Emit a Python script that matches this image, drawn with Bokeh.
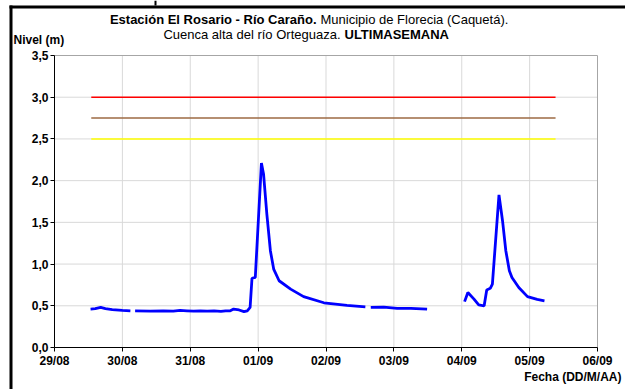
import numpy as np
import pandas as pd
from bokeh.plotting import figure
from bokeh.models import (Range1d, FixedTicker, DatetimeTickFormatter,
                          CustomJSTickFormatter, ColumnDataSource)
from bokeh.core.properties import value
from bokeh.embed import file_html
from bokeh.resources import INLINE

# ---------------- data ----------------
times = [
    "2013-08-29 12:45", "2013-08-29 14:25", "2013-08-29 16:20", "2013-08-29 18:00",
    "2013-08-29 20:25", "2013-08-30 00:00", "2013-08-30 02:50",
    "2013-08-30 03:40",  # gap
    "2013-08-30 04:30", "2013-08-30 09:50", "2013-08-30 14:25", "2013-08-30 18:00",
    "2013-08-30 20:25", "2013-08-30 22:50", "2013-08-31 01:10", "2013-08-31 03:35",
    "2013-08-31 06:00", "2013-08-31 08:25", "2013-08-31 10:50", "2013-08-31 12:30",
    "2013-08-31 14:10", "2013-08-31 15:20", "2013-08-31 17:15", "2013-08-31 19:00",
    "2013-08-31 20:10", "2013-08-31 21:10", "2013-08-31 21:50", "2013-08-31 23:00",
    "2013-09-01 01:10", "2013-09-01 01:55", "2013-09-01 03:05", "2013-09-01 04:20",
    "2013-09-01 05:30", "2013-09-01 07:25", "2013-09-01 11:30", "2013-09-01 16:05",
    "2013-09-01 23:15", "2013-09-02 07:25", "2013-09-02 13:55",
    "2013-09-02 14:50",  # gap
    "2013-09-02 15:50", "2013-09-02 20:25", "2013-09-03 01:10", "2013-09-03 06:00",
    "2013-09-03 11:45",
    "2013-09-03 18:00",  # gap
    "2013-09-04 01:00", "2013-09-04 02:10", "2013-09-04 04:20", "2013-09-04 06:00",
    "2013-09-04 07:55", "2013-09-04 08:50", "2013-09-04 10:05", "2013-09-04 10:50",
    "2013-09-04 13:10", "2013-09-04 14:25", "2013-09-04 15:35", "2013-09-04 16:50",
    "2013-09-04 17:45", "2013-09-04 20:10", "2013-09-04 23:15", "2013-09-05 02:40",
    "2013-09-05 05:15",
]
levels = [
    0.46, 0.465, 0.48, 0.465,
    0.455, 0.445, 0.44,
    None,
    0.44, 0.437, 0.44, 0.435,
    0.445, 0.44, 0.435, 0.44,
    0.435, 0.44, 0.432, 0.44,
    0.44, 0.46, 0.45, 0.43,
    0.44, 0.48, 0.83, 0.84,
    2.21, 2.08, 1.60, 1.16,
    0.94, 0.80, 0.70, 0.61,
    0.536, 0.504, 0.488,
    None,
    0.48, 0.485, 0.47, 0.47,
    0.46,
    None,
    0.55, 0.66, 0.58, 0.51,
    0.50, 0.69, 0.71, 0.76,
    1.83, 1.52, 1.16, 0.92,
    0.84, 0.72, 0.61, 0.576,
    0.56,
]

threshold_values = [3.0, 2.75, 2.5]
threshold_colors = ["#ff0000", "#9c6a43", "#ffff00"]
threshold_start = "2013-08-29 13:00"
threshold_end = "2013-09-05 09:10"

x_tick_dates = ["2013-08-29", "2013-08-30", "2013-08-31", "2013-09-01", "2013-09-02",
                "2013-09-03", "2013-09-04", "2013-09-05", "2013-09-06"]
y_ticks = [0.0, 0.5, 1.0, 1.5, 2.0, 2.5, 3.0, 3.5]

title_1_bold = "Estación El Rosario - Río Caraño."
title_1_normal = "Municipio de Florecia (Caquetá)."
title_2_normal = "Cuenca alta del río Orteguaza."
title_2_bold = "ULTIMASEMANA"
y_title = "Nivel (m)"
x_title = "Fecha (DD/M/AA)"

# ---------------- geometry ----------------
FONT = "Liberation Sans"
W, H = 625, 389
FL, FT, FR, FB = 54, 55, 597, 347   # plot area in px

t = pd.to_datetime(times)
lv = np.array([np.nan if v is None else v for v in levels], dtype=float)
src = ColumnDataSource(dict(t=t, lv=lv))

tick_ms = [pd.Timestamp(d).value / 1e6 for d in x_tick_dates]
x0, x1 = tick_ms[0], tick_ms[-1]
y0, y1 = y_ticks[0], y_ticks[-1]


def px_x(px):
    return x0 + (px - FL) / (FR - FL) * (x1 - x0)


def px_y(py):
    return y0 + (FB - py) / (FB - FT) * (y1 - y0)


p = figure(width=W, height=H, x_axis_type="datetime",
           output_backend="svg", toolbar_location=None,
           x_range=Range1d(px_x(0), px_x(W)), y_range=Range1d(px_y(H), px_y(0)),
           min_border=0, min_border_left=0, min_border_right=0,
           min_border_top=0, min_border_bottom=0)
p.title_location = None
p.background_fill_color = "white"
p.border_fill_color = "white"
p.outline_line_color = None
p.xgrid.visible = False
p.ygrid.visible = False

# axes fixed at the plot-area edges
ticker_x = FixedTicker(ticks=tick_ms)
p.xaxis.ticker = ticker_x
p.xaxis.formatter = DatetimeTickFormatter(days="%d/%m", months="%d/%m",
                                          hours="%d/%m", years="%d/%m")
p.xaxis.fixed_location = y0
p.xaxis.bounds = (x0, x1)
p.yaxis.ticker = FixedTicker(ticks=y_ticks)
p.yaxis.formatter = CustomJSTickFormatter(code="return tick.toFixed(1).replace('.', ',');")
p.yaxis.fixed_location = x0
p.yaxis.bounds = (y0, y1)

for ax in (p.xaxis[0], p.yaxis[0]):
    ax.axis_line_color = "black"
    ax.axis_line_width = 1
    ax.major_tick_line_color = "black"
    ax.major_tick_out = 4
    ax.major_tick_in = 0
    ax.minor_tick_line_color = None
    ax.major_label_text_font = FONT
    ax.major_label_text_font_style = "bold"
    ax.major_label_text_font_size = "12px"
    ax.major_label_text_color = "black"
    ax.major_label_standoff = 2

# grid lines (light) and plot-area border (top / right, darker)
grid_h = [v for v in y_ticks[1:-1]]
p.segment(x0=[x0] * len(grid_h), y0=grid_h, x1=[x1] * len(grid_h), y1=grid_h,
          line_color="#d9d9d9", line_width=1)
grid_v = tick_ms[1:-1]
p.segment(x0=grid_v, y0=[y0] * len(grid_v), x1=grid_v, y1=[y1] * len(grid_v),
          line_color="#d9d9d9", line_width=1)
p.segment(x0=[x0, x1], y0=[y1, y0], x1=[x1, x1], y1=[y1, y1],
          line_color="#a6a6a6", line_width=1)

# outer chart frame (thick black, left and top) and small mark at top
p.quad(left=[px_x(9), px_x(9), px_x(154)], right=[px_x(12), px_x(W), px_x(156)],
       top=[px_y(5), px_y(5), px_y(0)], bottom=[px_y(H), px_y(8), px_y(5)],
       fill_color="black", line_color=None)

# threshold lines
ts, te = pd.Timestamp(threshold_start), pd.Timestamp(threshold_end)
for v, c in zip(threshold_values, threshold_colors):
    p.line([ts, te], [v, v], line_color=c, line_width=1.6)

# level series
p.line("t", "lv", source=src, line_color="#0000ff", line_width=2.8)

# ---------------- texts ----------------
def add_texts(items, bold, size, align):
    xs = [px_x(i[1]) for i in items]
    ys = [px_y(i[2]) for i in items]
    tx = [i[0] for i in items]
    p.text(x=xs, y=ys, text=tx, text_font=value(FONT),
           text_font_style="bold" if bold else "normal",
           text_font_size=size, text_align=align, text_baseline="middle",
           text_color="black")


add_texts([(title_1_bold, 316, 19)], True, "13px", "right")
add_texts([(title_1_normal, 320, 19)], False, "13px", "left")
add_texts([(title_2_normal, 340, 34)], False, "13px", "right")
add_texts([(title_2_bold, 344, 34)], True, "13px", "left")
add_texts([(y_title, 13, 39)], True, "12px", "left")
add_texts([(x_title, 621, 376)], True, "12px", "right")

open("out.html", "w").write(file_html(p, INLINE))
